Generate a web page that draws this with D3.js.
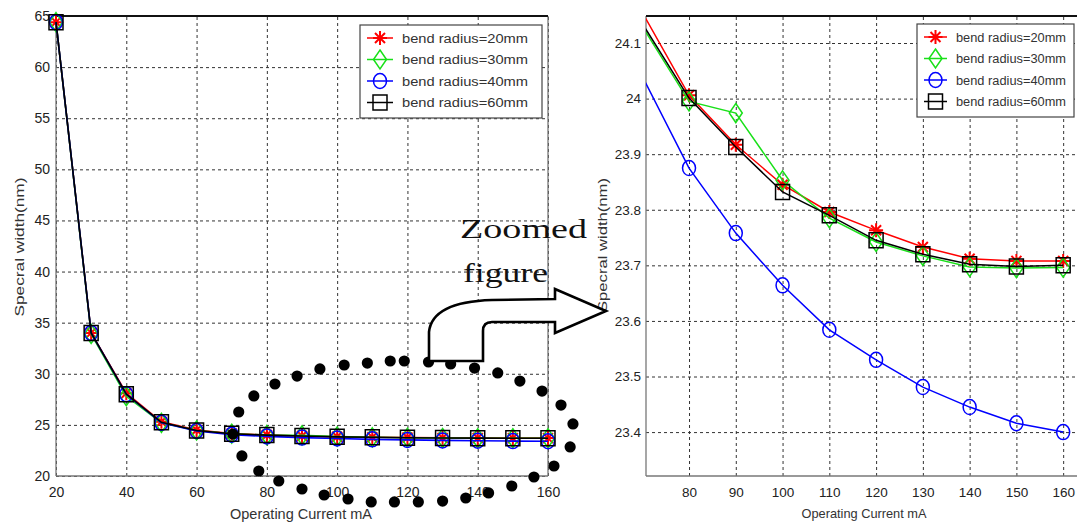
<!DOCTYPE html>
<html><head><meta charset="utf-8">
<script src="https://cdn.jsdelivr.net/npm/d3@7"></script>
<style>body{margin:0;background:#fff}svg{display:block;background:#fff}</style>
</head><body><svg id="c" width="1077" height="525"></svg>
<script>
// ---------- data ----------
const current = [20,30,40,50,60,70,80,90,100,110,120,130,140,150,160];
const radius20 = [64.4,34.0,28.1,25.3,24.5,24.155,24.006,23.917,23.845,23.796,23.763,23.733,23.712,23.708,23.708];
const radius30 = [64.4,33.9,27.8,25.2,24.45,24.13,23.995,23.974,23.853,23.785,23.742,23.717,23.697,23.695,23.696];
const radius40 = [64.4,34.0,28.0,25.2,24.4,24.04,23.875,23.758,23.664,23.584,23.53,23.481,23.445,23.416,23.40];
const radius60 = [64.4,34.0,28.0,25.25,24.45,24.135,24.001,23.913,23.832,23.79,23.745,23.72,23.702,23.698,23.70];
const seriesNames = ["bend radius=20mm","bend radius=30mm","bend radius=40mm","bend radius=60mm"];
const seriesColors = ["#ff0000","#19e019","#0000ff","#000000"];
const seriesMarkers = ["star","diamond","circle","square"];
const leftXTicks = [20,40,60,80,100,120,140,160];
const leftYTicks = [20,25,30,35,40,45,50,55,60,65];
const rightXTicks = [80,90,100,110,120,130,140,150,160];
const rightYTicks = [23.4,23.5,23.6,23.7,23.8,23.9,24,24.1];
const xTitle = "Operating Current mA";
const yTitle = "Specral width(nm)";
// annotation ellipse of dots, in left-panel data units (mA, nm)
const ringX = [70.3,72.0,76.3,82.3,88.6,95.1,102.0,108.6,115.1,119.1,126.0,132.3,139.1,145.7,152.0,158.3,163.7,167.1,166.3,161.7,156.0,149.7,143.1,136.6,130.0,123.1,116.3,109.7,103.1,96.3,90.0,83.4,77.7,72.9];
const ringY = [24.1,26.26,27.83,29.0,29.78,30.47,30.86,31.05,31.25,31.25,31.15,30.96,30.56,30.08,29.29,28.31,26.94,25.09,22.84,20.98,19.9,19.02,18.34,17.85,17.55,17.46,17.46,17.46,17.75,18.14,18.73,19.51,20.49,21.96];

const series = [radius20,radius30,radius40,radius60].map((v,i)=>({
  name:seriesNames[i], color:seriesColors[i], marker:seriesMarkers[i],
  pts: current.map((c,j)=>({x:c,y:v[j]}))
}));

const svg = d3.select("#c");
const FONT = "'Liberation Sans', Arial, sans-serif";

function markerPath(type){
  if(type==="star"){const r=7,a=5;return `M${-r},0H${r}M0,${-r}V${r}M${-a},${-a}L${a},${a}M${-a},${a}L${a},${-a}`;}
  if(type==="diamond"){return "M0,-9.5L6.5,0L0,9.5L-6.5,0Z";}
  if(type==="circle"){return "M-6.5,0A6.5,7.5 0 1,0 6.5,0A6.5,7.5 0 1,0 -6.5,0Z";}
  return "M-7,-7.5H7V7.5H-7Z";
}
function drawMarker(g,type,color,cx,cy){
  g.append("path").attr("d",markerPath(type)).attr("transform",`translate(${cx},${cy})`)
   .attr("fill","none").attr("stroke",color).attr("stroke-width",type==="star"?2:1.5);
}

function panel(o){
  const x = d3.scaleLinear().domain(o.xd).range([o.x0,o.x1]);
  const y = d3.scaleLinear().domain(o.yd).range([o.y1,o.y0]);
  const g = svg.append("g");
  const fmt = d=>String(+d.toFixed(1));
  const ax = g.append("g").attr("transform",`translate(0,${o.y1})`)
    .call(d3.axisBottom(x).tickValues(o.xt).tickSize(-(o.y1-o.y0)).tickPadding(o.xpad).tickFormat(fmt));
  const ay = g.append("g").attr("transform",`translate(${o.x0},0)`)
    .call(d3.axisLeft(y).tickValues(o.yt).tickSize(-(o.x1-o.x0)).tickPadding(o.ypad).tickFormat(fmt));
  [ax,ay].forEach(a=>{
    a.select(".domain").remove();
    a.selectAll(".tick line").attr("stroke","#333").attr("stroke-width",1).attr("stroke-dasharray","3,3");
    a.selectAll(".tick text").attr("font-family",FONT).attr("font-size",o.fs).attr("fill","#222");
  });
  g.append("line").attr("x1",o.x0).attr("x2",o.x1).attr("y1",o.y1).attr("y2",o.y1).attr("stroke","#777").attr("stroke-width",1.3);
  g.append("line").attr("x1",o.x0).attr("x2",o.x0).attr("y1",o.y0).attr("y2",o.y1).attr("stroke","#777").attr("stroke-width",1.3);
  if(o.rightBorder) g.append("line").attr("x1",o.x1).attr("x2",o.x1).attr("y1",o.y0).attr("y2",o.y1).attr("stroke","#777").attr("stroke-width",1.3);
  g.append("line").attr("x1",o.x0).attr("x2",o.x1).attr("y1",o.y0).attr("y2",o.y0).attr("stroke","#111").attr("stroke-width",2.2);
  const cid = "clip"+o.id;
  svg.append("defs").append("clipPath").attr("id",cid).append("rect")
    .attr("x",o.x0).attr("y",o.y0).attr("width",o.x1-o.x0).attr("height",o.y1-o.y0);
  const data = g.append("g");
  if(o.clip) data.attr("clip-path",`url(#${cid})`);
  const line = d3.line().x(d=>x(d.x)).y(d=>y(d.y));
  series.forEach(s=>{
    data.append("path").attr("d",line(s.pts)).attr("fill","none").attr("stroke",s.color).attr("stroke-width",o.lw);
    s.pts.filter(p=>!o.clip || (p.x>=o.xd[0] && p.x<=o.xd[1]))
      .forEach(p=>drawMarker(data,s.marker,s.color,x(p.x),y(p.y)));
  });
  const lg = g.append("g");
  lg.append("rect").attr("x",o.lgx).attr("y",o.lgy).attr("width",o.lgw).attr("height",93)
    .attr("fill","#fff").attr("stroke","#444").attr("stroke-width",1.2);
  series.forEach((s,i)=>{
    const yy = o.lgy+13+i*21.5;
    lg.append("line").attr("x1",o.lgx+7).attr("x2",o.lgx+7+o.lgl).attr("y1",yy).attr("y2",yy).attr("stroke",s.color).attr("stroke-width",1.5);
    drawMarker(lg,s.marker,s.color,o.lgx+7+o.lgl/2,yy);
    lg.append("text").attr("x",o.lgx+7+o.lgl+9).attr("y",yy+4.5).text(s.name)
      .attr("font-family",FONT).attr("font-size",12.5).attr("fill","#333")
      .attr("textLength",o.lgt).attr("lengthAdjust","spacingAndGlyphs");
  });
  g.append("text").attr("x",o.xtx).attr("y",o.xty).attr("text-anchor","middle").text(xTitle)
    .attr("font-family",FONT).attr("font-size",o.tfs).attr("fill","#333")
    .attr("textLength",o.xtl).attr("lengthAdjust","spacingAndGlyphs");
  g.append("text").attr("transform",`translate(${o.ytx},${o.yty}) rotate(-90)`).attr("text-anchor","middle").text(yTitle)
    .attr("font-family",FONT).attr("font-size",13).attr("fill","#333")
    .attr("textLength",o.ytl).attr("lengthAdjust","spacingAndGlyphs");
  return {x,y};
}

const left = panel({id:"L",xd:[20,160],yd:[20,65],x0:56,x1:548,y0:16,y1:476,xt:leftXTicks,yt:leftYTicks,
  xpad:11,ypad:6,fs:14,lw:1.6,clip:false,rightBorder:true,
  lgx:360,lgy:25,lgw:182,lgl:26,lgt:126,xtx:301,xty:519,xtl:142,tfs:14,ytx:24,yty:247,ytl:139});

svg.append("g").selectAll("circle").data(ringX.map((v,i)=>({x:v,y:ringY[i]}))).join("circle")
  .attr("cx",d=>left.x(d.x)).attr("cy",d=>left.y(d.y)).attr("r",5.6).attr("fill","#000");

const right = panel({id:"R",xd:[70.8,163.6],yd:[23.321,24.1486],x0:646,x1:1080,y0:16,y1:476,xt:rightXTicks,yt:rightYTicks,
  xpad:11,ypad:5,fs:13.5,lw:1.5,clip:true,rightBorder:false,
  lgx:917,lgy:24,lgw:157,lgl:23,lgt:110,xtx:864,xty:518,xtl:125,tfs:13,ytx:607,yty:245,ytl:134});

const ann = svg.append("g");
ann.append("path")
  .attr("d","M429,361 L429,332 Q432,302 492,300 L555,299 L555,289 L606,311 L555,333 L555,322 L492,322 Q483,322 483,331 L483,361 Z")
  .attr("fill","#fff").attr("stroke","#000").attr("stroke-width",2.6).attr("stroke-linejoin","miter");
ann.append("text").attr("x",460).attr("y",238).text("Zoomed")
  .attr("font-family","'Liberation Serif','Times New Roman',serif").attr("font-size",28).attr("fill","#111")
  .attr("textLength",127).attr("lengthAdjust","spacingAndGlyphs");
ann.append("text").attr("x",463).attr("y",282).text("figure")
  .attr("font-family","'Liberation Serif','Times New Roman',serif").attr("font-size",28).attr("fill","#111")
  .attr("textLength",85).attr("lengthAdjust","spacingAndGlyphs");
</script></body></html>
